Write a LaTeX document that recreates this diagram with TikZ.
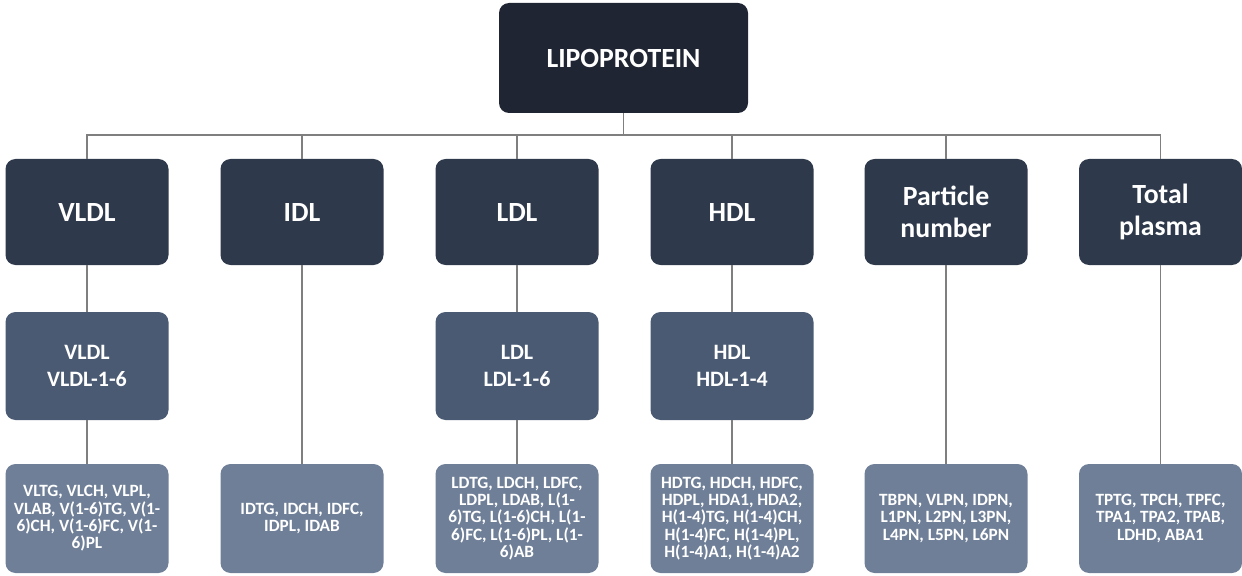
\documentclass[tikz,border=0pt]{standalone}
\usepackage{fontspec}
\setmainfont{Carlito}
\definecolor{rootfill}{HTML}{1F2532}
\definecolor{classfill}{HTML}{2E394B}
\definecolor{subfill}{HTML}{4A5A73}
\definecolor{leaffill}{HTML}{6F7F98}
\definecolor{linkgray}{HTML}{7F7F7F}
\begin{document}
\begin{tikzpicture}[
	box/.style={rounded corners=0.2cm, text=white, align=center, inner sep=0pt},
	rootbox/.style={box, fill=rootfill, minimum width=4.98cm, minimum height=2.2cm, font=\fontsize{15.8}{18}\selectfont\bfseries},
	classbox/.style={box, fill=classfill, minimum width=3.26cm, minimum height=2.12cm, font=\fontsize{15.8}{18}\selectfont\bfseries},
	subbox/.style={box, fill=subfill, minimum width=3.26cm, minimum height=2.16cm, font=\fontsize{12.5}{15}\selectfont\bfseries},
	leafbox/.style={box, fill=leaffill, minimum width=3.26cm, minimum height=2.18cm, font=\fontsize{9.8}{9.9}\selectfont\bfseries},
	link/.style={draw=linkgray, line width=1pt}
	]
	\useasboundingbox (0,0) rectangle (24.84,-11.52);
	\node[rootbox] (lipo) at (12.47,-1.16) {LIPOPROTEIN};
	
	\node[classbox] (vldl) at (1.74,-4.24) {VLDL};
	\node[classbox] (idl) at (6.04,-4.24) {IDL};
	\node[classbox] (ldl) at (10.34,-4.24) {LDL};
	\node[classbox] (hdl) at (14.64,-4.24) {HDL};
	\node[classbox] (particle) at (18.92,-4.24) {Particle\\number};
	\node[classbox] (total) at (23.21,-4.24) {Total\\plasma};
	
	\node[subbox] (vldlsub) at (1.74,-7.32) {VLDL\\VLDL-1-6};
	\node[subbox] (ldlsub) at (10.34,-7.32) {LDL\\LDL-1-6};
	\node[subbox] (hdlsub) at (14.64,-7.32) {HDL\\HDL-1-4};
	
	\node[leafbox] (vldlleaf) at (1.74,-10.37) {VLTG, VLCH, VLPL,\\VLAB, V(1-6)TG, V(1-\\6)CH, V(1-6)FC, V(1-\\6)PL};
	\node[leafbox] (idlleaf) at (6.04,-10.37) {IDTG, IDCH, IDFC,\\IDPL, IDAB};
	\node[leafbox] (ldlleaf) at (10.34,-10.37) {LDTG, LDCH, LDFC,\\LDPL, LDAB, L(1-\\6)TG, L(1-6)CH, L(1-\\6)FC, L(1-6)PL, L(1-\\6)AB};
	\node[leafbox] (hdlleaf) at (14.64,-10.37) {HDTG, HDCH, HDFC,\\HDPL, HDA1, HDA2,\\H(1-4)TG, H(1-4)CH,\\H(1-4)FC, H(1-4)PL,\\H(1-4)A1, H(1-4)A2};
	\node[leafbox] (particleleaf) at (18.92,-10.37) {TBPN, VLPN, IDPN,\\L1PN, L2PN, L3PN,\\L4PN, L5PN, L6PN};
	\node[leafbox] (totalleaf) at (23.21,-10.37) {TPTG, TPCH, TPFC,\\TPA1, TPA2, TPAB,\\LDHD, ABA1};
	
	\coordinate (bus) at (12.47,-2.7);
	\draw[link] (lipo) -- (bus);
	\draw[link] (bus) -| (vldl);
	\draw[link] (bus) -| (idl);
	\draw[link] (bus) -| (ldl);
	\draw[link] (bus) -| (hdl);
	\draw[link] (bus) -| (particle);
	\draw[link] (bus) -| (total);
	
	\draw[link] (vldl) -- (vldlsub);
	\draw[link] (ldl) -- (ldlsub);
	\draw[link] (hdl) -- (hdlsub);
	\draw[link] (vldlsub) -- (vldlleaf);
	\draw[link] (ldlsub) -- (ldlleaf);
	\draw[link] (hdlsub) -- (hdlleaf);
	\draw[link] (idl) -- (idlleaf);
	\draw[link] (particle) -- (particleleaf);
	\draw[link] (total) -- (totalleaf);
\end{tikzpicture}
\end{document}
